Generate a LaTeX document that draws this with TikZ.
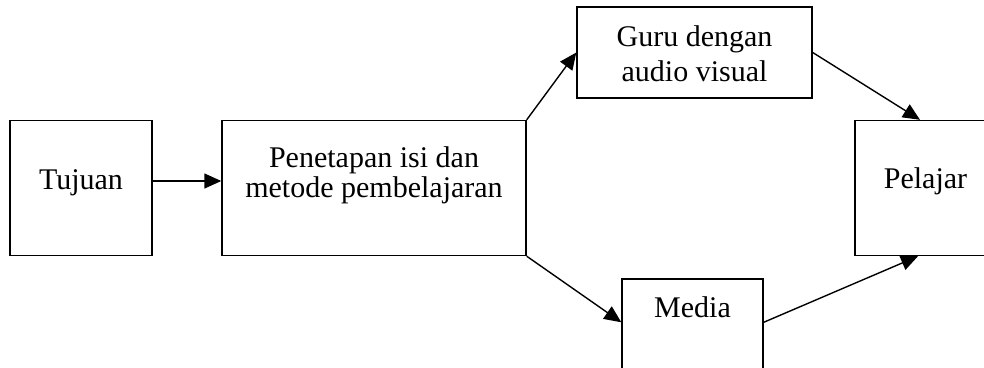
\documentclass[tikz,border=0pt]{standalone}
\usepackage{fontspec}
\setmainfont{Liberation Serif}
\usetikzlibrary{arrows.meta}

\tikzset{
  box/.style={draw, line width=1.4pt, inner sep=0pt, fill=white},
  label/.style={inner sep=0pt, align=center, font=\fontsize{30}{30}\selectfont},
  link/.style={line width=1.4pt, -{Triangle[length=17pt,width=15pt]}}
}

\begin{document}
\begin{tikzpicture}[x=1pt,y=-1pt]
  \useasboundingbox (0,0) rectangle (984,367);
  \clip (0,0) rectangle (984,367);

  % boxes
  \node[box, minimum width=142pt, minimum height=135pt] (tuj) at (81,188) {};
  \node[box, minimum width=304pt, minimum height=135pt] (pen) at (374,188) {};
  \node[box, minimum width=235pt, minimum height=91pt]  (guru) at (694.5,52.5) {};
  \node[box, minimum width=141pt, minimum height=150pt] (med) at (692.5,354) {};
  \node[box, minimum width=141pt, minimum height=135pt] (pel) at (925.5,188) {};

  % texts
  \node[label, anchor=base] (tujT) at (81,189) {Tujuan};
  \node[label, font=\fontsize{30}{29.6}\selectfont] (penT) at (374,175.5)
    {Penetapan isi dan\\metode pembelajaran};
  \node[label, font=\fontsize{30}{35}\selectfont] (guruT) at (694.5,54)
    {Guru dengan\\audio visual};
  \node[label, anchor=base] (medT) at (692.5,317) {Media};
  \node[label, anchor=base] (pelT) at (925.5,188) {Pelajar};

  % connectors
  \draw[link] (tuj.east |- 0,181) -- (pen.west |- 0,181);
  \draw[link] (pen.north east) -- (guru.west);
  \draw[link] (pen.south east) -- ([yshift=-44pt]med.north west);
  \draw[link] (guru.east) -- ([xshift=-5.5pt]pel.north);
  \draw[link] ([yshift=-44pt]med.north east) -- ([xshift=-7.5pt]pel.south);
\end{tikzpicture}
\end{document}
